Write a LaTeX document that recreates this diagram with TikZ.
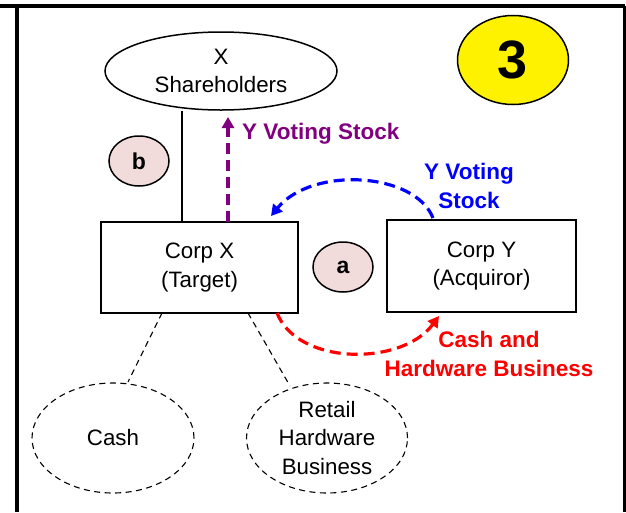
\documentclass[tikz,border=0pt]{standalone}
\usepackage{fontspec}
\setmainfont{Liberation Sans}
\usetikzlibrary{shapes.geometric,arrows.meta}
\definecolor{pinkfill}{RGB}{242,220,219}
\definecolor{vpurple}{RGB}{128,0,128}
\tikzset{
  txt/.style={font=\fontsize{22.3}{28.5}\selectfont, align=center},
  boxnode/.style={draw, line width=1.5pt, inner sep=0pt, txt},
  solidell/.style={ellipse, draw, line width=1.5pt, inner sep=0pt, txt},
  dashell/.style={ellipse, draw, line width=1.1pt, dash pattern=on 6pt off 4.5pt, inner sep=0pt, txt},
  tag/.style={ellipse, draw, line width=1.5pt, fill=pinkfill, inner sep=0pt, minimum width=60pt, minimum height=50pt, font=\fontsize{23}{26}\selectfont\bfseries},
  thinlink/.style={line width=1.1pt, dash pattern=on 6pt off 4.5pt},
  flow/.style={line width=3.2pt, dash pattern=on 11pt off 6pt, -{Triangle[length=11pt,width=12pt]}},
  lbl/.style={font=\fontsize{22.5}{28.5}\selectfont\bfseries, align=center, inner sep=0pt}
}
\begin{document}
\begin{tikzpicture}[x=1pt,y=-1pt]
\useasboundingbox (0,0) rectangle (626,512);
% frame
\draw[line width=3.2pt] (0,6) -- (625,6);
\draw[line width=3.2pt] (17,6) -- (17,512);
\draw[line width=3.2pt] (625,6) -- (625,512);

\node[solidell, minimum width=232pt, minimum height=78pt] (xsh) at (221,71) {X\\Shareholders};
\node[boxnode, minimum width=197pt, minimum height=91pt] (corpx) at (199.5,267.5) {Corp X\\(Target)};
\node[boxnode, minimum width=189pt, minimum height=92pt] (corpy) at (481.5,266) {Corp Y\\(Acquiror)};
\node[ellipse, draw, line width=1.5pt, fill=yellow, minimum width=111pt, minimum height=89pt, inner sep=0pt, font=\fontsize{54}{58}\selectfont\bfseries] (three) at (513,60) {3};
\node[tag] (b) at (139,161) {b};
\node[tag] (a) at (343,267) {a};
\node[dashell, minimum width=162pt, minimum height=110pt] (cash) at (113,438) {Cash};
\node[dashell, minimum width=161pt, minimum height=110pt] (retail) at (327,438) {Retail\\Hardware\\Business};

% solid link
\draw[line width=1.5pt] (xsh.south -| 182,0) -- (corpx.north -| 182,0);
% dashed links to assets
\coordinate (cx1) at (162,313);
\coordinate (cx2) at (248,313);
\coordinate (ca) at (128,382);
\coordinate (re) at (290,386);
\draw[thinlink] (cx1) -- (ca);
\draw[thinlink] (cx2) -- (re);

% purple arrow
\coordinate (pu1) at (228,222);
\coordinate (pu2) at (228,117);
\draw[flow, vpurple] (pu1) -- (pu2);
\node[lbl, vpurple, anchor=west] (plab) at (242,134) {Y Voting Stock};

% blue arrow
\coordinate (bl1) at (433,218);
\coordinate (bl2) at (271,216);
\draw[flow, blue] (bl1) .. controls (415,172) and (312,166) .. (bl2);
\node[lbl, blue] (blab) at (469,186) {Y Voting\\Stock};

% red arrow
\coordinate (rd1) at (277,313);
\coordinate (rd2) at (439,316);
\draw[flow, red] (rd1) .. controls (298,366) and (402,366) .. (rd2);
\node[lbl, red] (rlab) at (489,354) {Cash and\\Hardware Business};
\end{tikzpicture}
\end{document}
